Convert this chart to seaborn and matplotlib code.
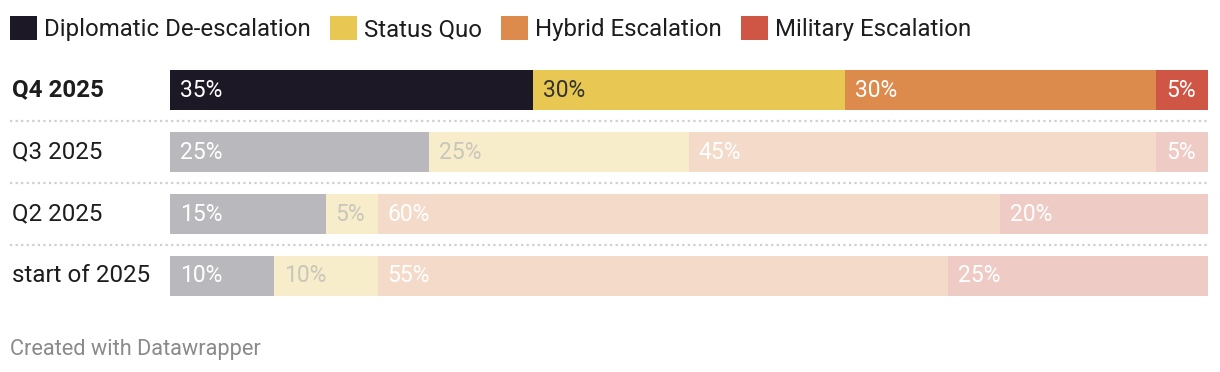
import numpy as np
import pandas as pd
import matplotlib.pyplot as plt
import matplotlib.transforms as mtransforms
from matplotlib.patches import Patch
import seaborn as sns

# data
rows = ['Q4 2025', 'Q3 2025', 'Q2 2025', 'start of 2025']
categories = ['Diplomatic De-escalation', 'Status Quo', 'Hybrid Escalation', 'Military Escalation']
diplomatic = [35, 25, 15, 10]
status_quo = [30, 25, 5, 10]
hybrid = [30, 45, 60, 55]
military = [5, 5, 20, 25]

full_colors = ['#1c1826', '#e8c752', '#dc8b4c', '#cf5544']
faded_colors = ['#b9b8bd', '#f7edca', '#f3dac9', '#efcbc5']
label_full = ['white', '#333333', 'white', 'white']
label_faded = ['white', '#c9c6bb', 'white', 'white']

sns.set_style('white')
plt.rcParams['font.family'] = ['Roboto', 'DejaVu Sans']

df = pd.DataFrame({'row': rows, categories[0]: diplomatic, categories[1]: status_quo,
                   categories[2]: hybrid, categories[3]: military})
long = df.melt(id_vars='row', var_name='category', value_name='value')
long['category'] = pd.Categorical(long['category'], categories, ordered=True)
long = long.sort_values(['row', 'category'])
long['end'] = long.groupby('row')['value'].cumsum()
long['start'] = long['end'] - long['value']

fig = plt.figure(figsize=(12.2, 3.72), dpi=100)
ax = fig.add_axes([170 / 1220, 65 / 372, 1038 / 1220, 248 / 372])

# stacked bars: draw cumulative ends from the last category back to the first
for i in reversed(range(len(categories))):
    sub = long[long['category'] == categories[i]]
    pal = {r: (full_colors[i] if r == rows[0] else faded_colors[i]) for r in rows}
    sns.barplot(data=sub, x='end', y='row', hue='row', order=rows, hue_order=rows,
                palette=pal, saturation=1, dodge=False, width=40 / 62, linewidth=0,
                legend=False, ax=ax)

ax.set_xlim(0, 100)
ax.set_ylim(3.5, -0.5)
ax.axis('off')

# value labels
for _, r in long.iterrows():
    i = categories.index(r['category'])
    y = rows.index(r['row'])
    col = label_full[i] if y == 0 else label_faded[i]
    ax.text(r['start'] + 0.95, y, f"{r['value']}%", color=col, fontsize=16.5,
            va='center', ha='left')

# row labels and separators
trans = mtransforms.blended_transform_factory(fig.transFigure, ax.transData)
for y, name in enumerate(rows):
    ax.text(12 / 1220, y, name, transform=trans, fontsize=17.4, va='center', ha='left',
            color='#1d1d1d', fontweight='bold' if y == 0 else 'normal')
for y in [0.5, 1.5, 2.5]:
    ax.plot([10 / 1220, 1208 / 1220], [y, y], transform=trans, color='#cfcfcf',
            linestyle=(0, (1, 1.5)), lw=1.6, clip_on=False)

# legend
handles = [Patch(facecolor=c, edgecolor='none') for c in full_colors]
fig.legend(handles, categories, loc='upper left', bbox_to_anchor=(10 / 1220, 1 - 16 / 372),
           ncol=4, frameon=False, fontsize=17.3, handlelength=1.12, handleheight=1.17,
           handletextpad=0.29, columnspacing=0.8, labelcolor='#1d1d1d',
           borderpad=0, borderaxespad=0)

fig.text(10 / 1220, 1 - 349 / 372, 'Created with Datawrapper', fontsize=15.7,
         color='#8a8a8a', va='center', ha='left')

fig.savefig('out.png', dpi=100)
